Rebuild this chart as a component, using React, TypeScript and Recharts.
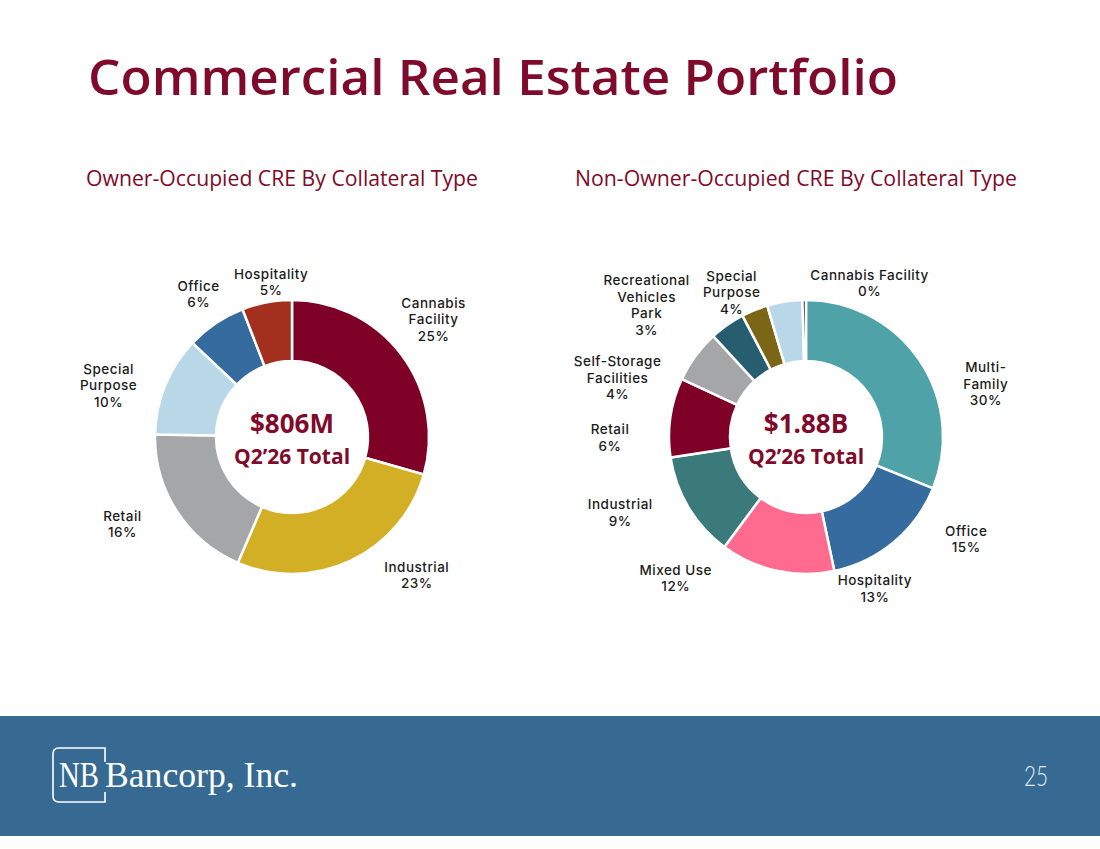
import React from 'react';
import { PieChart, Pie, Cell } from 'recharts';

// Owner-occupied CRE mix (% of book)
const ownerCategories = ['Cannabis Facility', 'Industrial', 'Retail', 'Special Purpose', 'Office', 'Hospitality'];
const ownerValues = [25, 23, 16, 10, 6, 5];
const ownerColors = ['#7f0026', '#d2af25', '#a5a6a8', '#b9d8e7', '#356b9e', '#a3301f'];
const ownerLabelLines = [['Cannabis', 'Facility'], ['Industrial'], ['Retail'], ['Special', 'Purpose'], ['Office'], ['Hospitality']];
const ownerTotal = '$806M';

// Non-owner-occupied CRE mix (% of book)
const nonOwnerCategories = [
  'Multi-Family', 'Office', 'Hospitality', 'Mixed Use', 'Industrial', 'Retail',
  'Self-Storage Facilities', 'Recreational Vehicles Park', 'Special Purpose', 'Cannabis Facility',
];
const nonOwnerValues = [30, 15, 13, 12, 9, 6, 4, 3, 4, 0.4];
const nonOwnerColors = [
  '#4fa2a8', '#356b9e', '#ff6b8f', '#3b7a7b', '#7f0026', '#a5a6a8',
  '#265d6f', '#7a6614', '#b9d8e7', '#3b2b48',
];
const nonOwnerLabelLines = [
  ['Multi-', 'Family'], ['Office'], ['Hospitality'], ['Mixed Use'], ['Industrial'], ['Retail'],
  ['Self-Storage', 'Facilities'], ['Recreational', 'Vehicles', 'Park'], ['Special', 'Purpose'], ['Cannabis Facility'],
];
const nonOwnerTotal = '$1.88B';

const periodLabel = 'Q2\u201926 Total';

// label placement around each donut: clockwise shift from the slice middle (deg) and distance from centre (px)
const ownerLabelShift = [-3, -17, 6, -6, 1, 3];
const ownerLabelRadius = [185, 185, 190, 191, 172, 158];
const nonOwnerLabelShift = [17, -18, -37, -16, -30, -36, -37, -28, -18, 23];
const nonOwnerLabelRadius = [188, 189, 165, 191, 200, 196, 198, 208, 164, 168];

const BRAND_RED = '#7f0a2b';
const BAND_BLUE = '#376a93';

const toRows = (names: string[], values: number[]) => names.map((name, i) => ({ name, value: values[i] }));

const makeLabel = (lines: string[][], shift: number[], radius: number[]) => (props: any) => {
  const { cx, cy, midAngle, index } = props;
  const value = props.value ?? props.payload?.value;
  const theta = ((90 - midAngle + shift[index]) * Math.PI) / 180;
  const r = radius[index];
  const x = cx + r * Math.sin(theta);
  const y = cy - r * Math.cos(theta);
  const rows = [...lines[index], `${Math.round(value)}%`];
  const lh = 16.5;
  return (
    <text
      key={`lbl-${index}`}
      x={x}
      y={y}
      textAnchor="middle"
      fill="#1c1c1c"
      fontFamily="Inter, 'Noto Sans', sans-serif"
      fontSize={13.5}
      fontWeight={500}
      letterSpacing={0.5}
    >
      {rows.map((row, i) => (
        <tspan key={i} x={x} y={y + (i - (rows.length - 1) / 2) * lh + 6.5}>
          {row}
        </tspan>
      ))}
    </text>
  );
};

interface DonutProps {
  left: number;
  data: { name: string; value: number }[];
  colors: string[];
  label: (p: any) => React.ReactElement;
  total: string;
}

const Donut: React.FC<DonutProps> = ({ left, data, colors, label, total }) => (
  <div style={{ position: 'absolute', left, top: 213, width: 500, height: 450 }}>
    <PieChart width={500} height={450}>
      <Pie
        data={data}
        dataKey="value"
        nameKey="name"
        cx={245}
        cy={219}
        innerRadius={76}
        outerRadius={137}
        startAngle={90}
        endAngle={-270}
        stroke="#ffffff"
        strokeWidth={2.5}
        labelLine={false}
        label={label}
        isAnimationActive={false}
      >
        {data.map((d, i) => (
          <Cell key={d.name} fill={colors[i]} />
        ))}
      </Pie>
    </PieChart>
    <div
      style={{
        position: 'absolute',
        left: 150,
        width: 200,
        top: 195,
        textAlign: 'center',
        color: BRAND_RED,
        fontFamily: "'Open Sans', sans-serif",
        fontWeight: 700,
        pointerEvents: 'none',
      }}
    >
      <div style={{ fontSize: 26, lineHeight: '30px' }}>{total}</div>
      <div style={{ fontSize: 21, lineHeight: '32px', marginTop: 2 }}>{periodLabel}</div>
    </div>
  </div>
);

export default function App() {
  return (
    <div style={{ position: 'absolute', left: 0, top: 0, width: 1100, height: 849, background: '#ffffff', overflow: 'hidden' }}>
      <div style={{ position: 'absolute', left: 0, top: 716, width: 1100, height: 120, background: BAND_BLUE }} />

      <Donut
        left={42}
        data={toRows(ownerCategories, ownerValues)}
        colors={ownerColors}
        label={makeLabel(ownerLabelLines, ownerLabelShift, ownerLabelRadius)}
        total={ownerTotal}
      />
      <Donut
        left={556}
        data={toRows(nonOwnerCategories, nonOwnerValues)}
        colors={nonOwnerColors}
        label={makeLabel(nonOwnerLabelLines, nonOwnerLabelShift, nonOwnerLabelRadius)}
        total={nonOwnerTotal}
      />

      <svg width={1100} height={849} style={{ position: 'absolute', left: 0, top: 0, pointerEvents: 'none' }}>
        <text x={88} y={95} fill={BRAND_RED} fontFamily="'Open Sans', sans-serif" fontWeight={600} fontSize={49}
          textLength={810} lengthAdjust="spacingAndGlyphs">
          Commercial Real Estate Portfolio
        </text>
        <text x={86} y={186} fill={BRAND_RED} fontFamily="'Open Sans', sans-serif" fontSize={21}
          textLength={392} lengthAdjust="spacingAndGlyphs">
          Owner-Occupied CRE By Collateral Type
        </text>
        <text x={575} y={186} fill={BRAND_RED} fontFamily="'Open Sans', sans-serif" fontSize={21}
          textLength={442} lengthAdjust="spacingAndGlyphs">
          Non-Owner-Occupied CRE By Collateral Type
        </text>

        {/* footer logo */}
        <path d="M105 762 V748 H59 Q53 748 53 754 V796 Q53 802 59 802 H105 V792"
          fill="none" stroke="#ffffff" strokeWidth={1.6} />
        <text x={59} y={787} fill="#ffffff" fontFamily="'Liberation Serif', 'DejaVu Serif', serif" fontSize={36}
          textLength={40} lengthAdjust="spacingAndGlyphs">
          NB
        </text>
        <text x={105} y={787} fill="#ffffff" fontFamily="'Liberation Serif', 'DejaVu Serif', serif" fontSize={36}
          textLength={193} lengthAdjust="spacingAndGlyphs">
          Bancorp, Inc.
        </text>
        <text x={1024} y={786} fill="#e4ecf3" fontFamily="Lato, 'Open Sans', sans-serif" fontWeight={300} fontSize={27}
          textLength={24} lengthAdjust="spacingAndGlyphs">
          25
        </text>
      </svg>
    </div>
  );
}
